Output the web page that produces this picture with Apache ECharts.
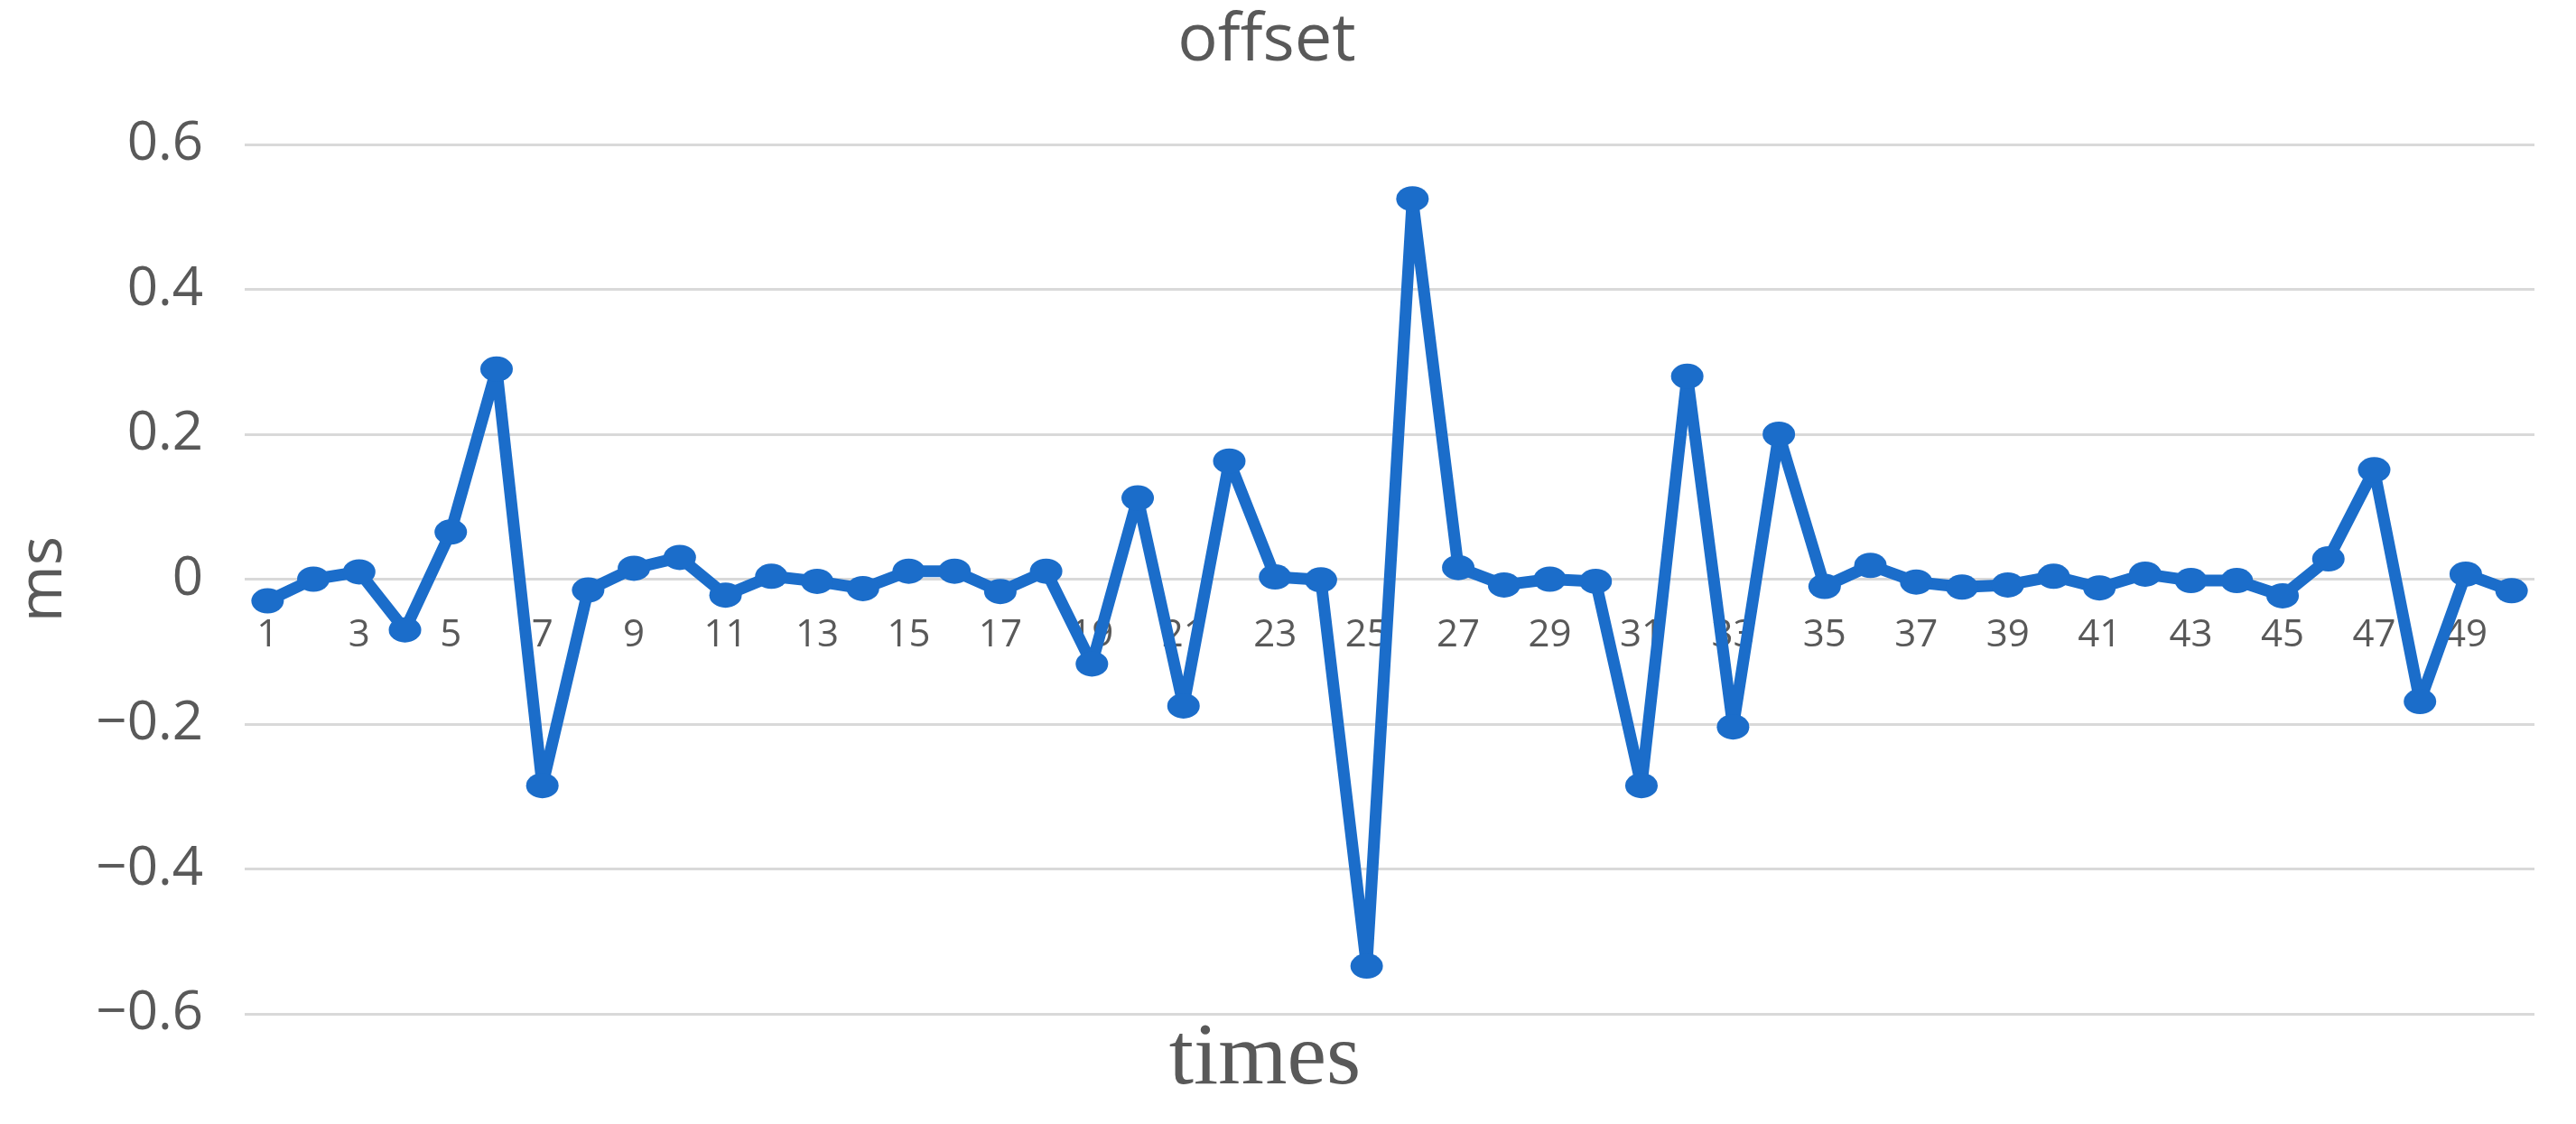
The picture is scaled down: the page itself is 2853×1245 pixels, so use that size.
<!DOCTYPE html>
<html>
<head>
<meta charset="utf-8">
<title>offset</title>
<script src="https://cdn.jsdelivr.net/npm/echarts@6/dist/echarts.min.js"></script>
<style>
  html, body { margin: 0; padding: 0; background: #fff; }
  #chart { width: 2853px; height: 1245px; }
</style>
</head>
<body>
<div id="chart"></div>
<script>
// categories (measurement number)
var times = ['1', '2', '3', '4', '5', '6', '7', '8', '9', '10',
  '11', '12', '13', '14', '15', '16', '17', '18', '19', '20',
  '21', '22', '23', '24', '25', '26', '27', '28', '29', '30',
  '31', '32', '33', '34', '35', '36', '37', '38', '39', '40',
  '41', '42', '43', '44', '45', '46', '47', '48', '49', '50']

// offset values in ms
var offsetMs = [-0.03, 0.0, 0.01, -0.07, 0.065, 0.29, -0.285, -0.015, 0.015, 0.03,
  -0.022, 0.004, -0.003, -0.013, 0.011, 0.011, -0.017, 0.011, -0.117, 0.112,
  -0.175, 0.163, 0.003, -0.001, -0.534, 0.525, 0.016, -0.008, 0.0, -0.003,
  -0.285, 0.28, -0.204, 0.2, -0.01, 0.019, -0.004, -0.011, -0.008, 0.004,
  -0.012, 0.007, -0.002, -0.002, -0.023, 0.028, 0.151, -0.169, 0.007, -0.016]

// y tick labels
var yTicks = ['\u22120.6', '\u22120.4', '\u22120.2', '0', '0.2', '0.4', '0.6']

var gridTop = 160
var gridBottom = 122
var plotH = 1245 - gridTop - gridBottom

var myChart = echarts.init(document.getElementById('chart'))

var option = {
  backgroundColor: '#fff',
  animation: false,
  title: [
    {
      text: 'offset',
      left: 1398,
      top: 4,
      textAlign: 'center',
      textStyle: {
        color: '#595959',
        fontFamily: 'Open Sans',
        fontWeight: 'normal',
        fontSize: 74
      }
    },
    {
      text: 'times',
      left: 1396,
      top: 1120,
      textAlign: 'center',
      textStyle: {
        color: '#595959',
        fontFamily: 'Liberation Serif',
        fontWeight: 'normal',
        fontSize: 98
      }
    }
  ],
  grid: {
    left: 271,
    right: 46,
    top: gridTop,
    bottom: gridBottom
  },
  xAxis: {
    type: 'category',
    data: times,
    boundaryGap: true,
    // move the category axis up to the zero line (middle of the plot)
    position: 'bottom',
    offset: -plotH / 2,
    axisLine: {
      show: false,
      onZero: false
    },
    axisTick: { show: false },
    axisLabel: {
      interval: 1,
      margin: 42,
      color: '#595959',
      fontFamily: 'Open Sans',
      fontSize: 42
    }
  },
  yAxis: {
    type: 'value',
    min: -0.6,
    max: 0.6,
    interval: 0.2,
    name: 'ms',
    nameLocation: 'middle',
    nameGap: 188,
    nameTextStyle: {
      color: '#595959',
      fontFamily: 'Open Sans',
      fontSize: 68
    },
    axisLine: { show: false },
    axisTick: { show: false },
    axisLabel: {
      margin: 46,
      color: '#595959',
      fontFamily: 'Open Sans',
      fontSize: 60,
      formatter: function(v) {
        var i = Math.round((v + 0.6) / 0.2)
        return yTicks[i]
      }
    },
    splitLine: {
      show: true,
      lineStyle: {
        color: '#d9d9d9',
        width: 3
      }
    }
  },
  series: [
    {
      name: 'offset',
      type: 'line',
      data: offsetMs,
      symbol: 'circle',
      symbolSize: [36, 28],
      lineStyle: {
        color: '#1b6dca',
        width: 13
      },
      itemStyle: {
        color: '#1b6dca'
      }
    }
  ]
}

myChart.setOption(option)
</script>
</body>
</html>
